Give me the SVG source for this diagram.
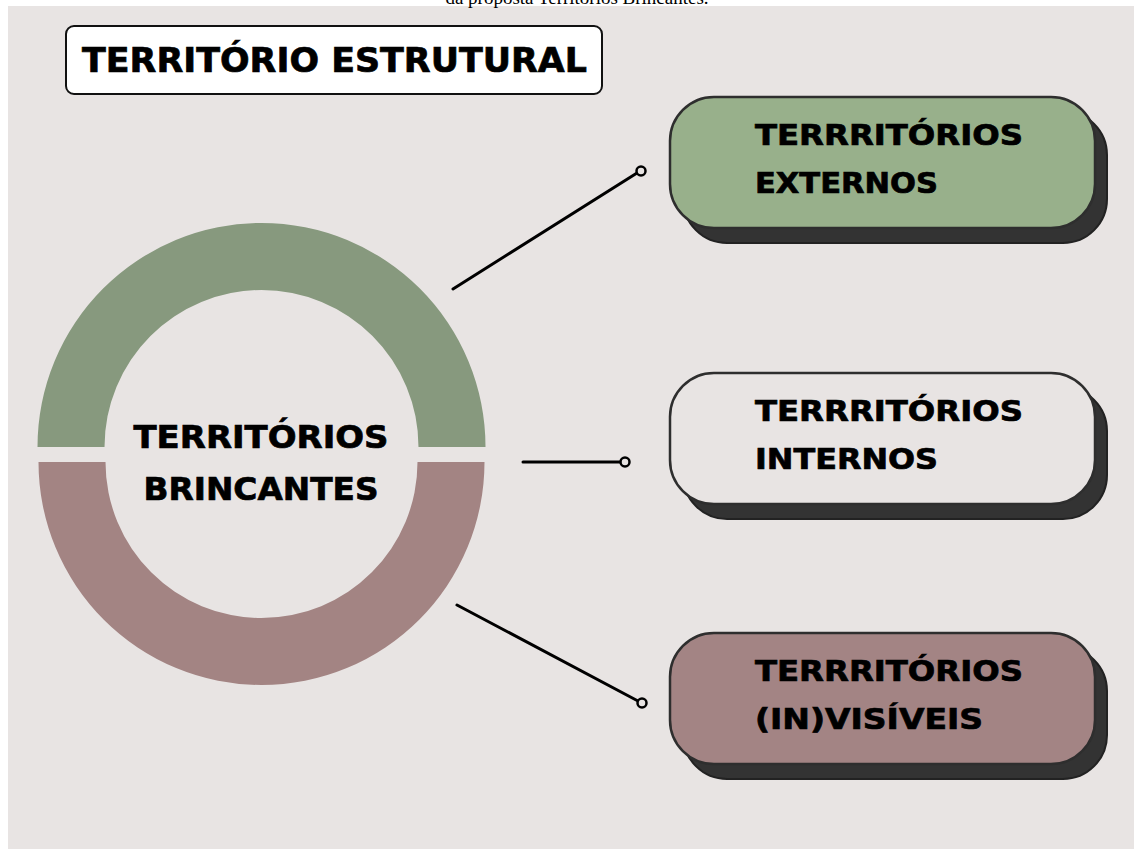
<svg xmlns="http://www.w3.org/2000/svg" width="1134" height="849" viewBox="0 0 1134 849">
<style>
.lbl{font-family:"DejaVu Sans","Liberation Sans",sans-serif;font-weight:bold;fill:#000;stroke:#000;stroke-width:0.7;}
.box{stroke:#2e2e2e;stroke-width:2.5;}
.shadow{fill:#333;stroke:#222;stroke-width:2;}
.conn{stroke:#000;stroke-width:3;fill:none;stroke-linecap:round;}
.dot{fill:#e8e4e3;stroke:#000;stroke-width:2.5;}
</style>
<rect x="0" y="0" width="1134" height="849" fill="#ffffff"/>
<rect x="8" y="6" width="1126" height="843" fill="#e8e4e3"/>
<text x="577" y="4" font-family="Liberation Serif, serif" font-size="19" text-anchor="middle" fill="#000">da proposta Territórios Brincantes.</text>

<g id="title">
<rect x="66" y="26" width="536" height="68" rx="8" fill="#ffffff" stroke="#111" stroke-width="2"/>
<text class="lbl" x="82" y="72" font-size="34" textLength="505" lengthAdjust="spacingAndGlyphs">TERRITÓRIO ESTRUTURAL</text>
</g>

<g id="ring">
<path d="M37.5,447 A224,224 0 0 1 485.5,447 L418.5,447 A157,157 0 0 0 104.5,447 Z" fill="#87997e"/>
<path d="M38.5,462 A223,223 0 0 0 484.5,462 L417.5,462 A156,156 0 0 1 105.5,462 Z" fill="#a38483"/>
<text class="lbl" x="261" y="448" font-size="32" text-anchor="middle" textLength="255" lengthAdjust="spacingAndGlyphs">TERRITÓRIOS</text>
<text class="lbl" x="261" y="500" font-size="32" text-anchor="middle" textLength="235" lengthAdjust="spacingAndGlyphs">BRINCANTES</text>
</g>

<g id="connectors">
<line class="conn" x1="453" y1="289" x2="637" y2="173"/>
<circle class="dot" cx="641" cy="171" r="4.5"/>
<line class="conn" x1="523" y1="462" x2="620" y2="462"/>
<circle class="dot" cx="625" cy="462" r="4.5"/>
<line class="conn" x1="457" y1="605" x2="638" y2="701"/>
<circle class="dot" cx="642" cy="703" r="4.5"/>
</g>

<g id="node-externos">
<rect class="shadow" x="683" y="111" width="424" height="132" rx="44"/>
<rect class="box" x="670" y="97" width="425" height="131" rx="44" fill="#98b08b"/>
<text class="lbl" x="755" y="145" font-size="28" textLength="268" lengthAdjust="spacingAndGlyphs">TERRRITÓRIOS</text>
<text class="lbl" x="755" y="193" font-size="28" textLength="183" lengthAdjust="spacingAndGlyphs">EXTERNOS</text>
</g>

<g id="node-internos">
<rect class="shadow" x="683" y="387" width="424" height="132" rx="44"/>
<rect class="box" x="670" y="373" width="425" height="131" rx="44" fill="#e8e4e3"/>
<text class="lbl" x="755" y="421" font-size="28" textLength="268" lengthAdjust="spacingAndGlyphs">TERRRITÓRIOS</text>
<text class="lbl" x="755" y="469" font-size="28" textLength="183" lengthAdjust="spacingAndGlyphs">INTERNOS</text>
</g>

<g id="node-invisiveis">
<rect class="shadow" x="683" y="647" width="424" height="132" rx="44"/>
<rect class="box" x="670" y="633" width="425" height="131" rx="44" fill="#a38484"/>
<text class="lbl" x="755" y="681" font-size="28" textLength="268" lengthAdjust="spacingAndGlyphs">TERRRITÓRIOS</text>
<text class="lbl" x="755" y="729" font-size="28" textLength="228" lengthAdjust="spacingAndGlyphs">(IN)VISÍVEIS</text>
</g>
</svg>
